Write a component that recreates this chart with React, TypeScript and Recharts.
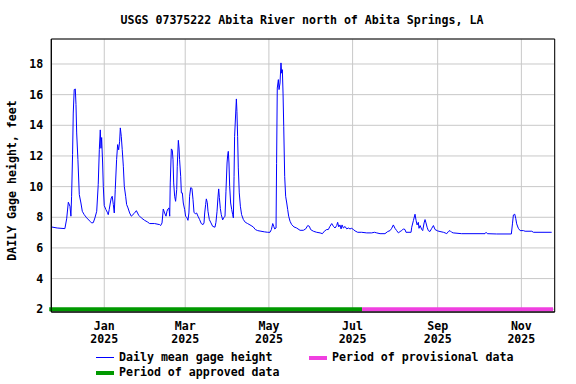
import { CartesianGrid, Legend, Line, LineChart, ReferenceArea, ReferenceLine, XAxis, YAxis } from "recharts";

// day 0 = 1 Jan 2025
const days = [
  -38.6, -34.3, -28.7, -27.4, -26.2, -25.0, -24.3, -23.8, -23.1, -22.6, -21.9, -21.1, -20.6, -20.1, -19.2, -18.2,
  -17.0, -16.0, -14.6, -12.8, -10.4, -9.2, -8.0, -6.8, -5.5, -4.4, -3.6, -2.9, -2.4, -1.9, -1.2, -0.7,
  0.0, 1.2, 2.2, 2.9, 3.6, 4.4, 5.1, 5.8, 6.6, 7.3, 8.0, 9.0, 9.75, 10.5, 11.2, 11.7,
  12.4, 13.1, 13.9, 14.6, 15.6, 16.3, 17.3, 18.5, 19.7, 21.7, 23.4, 25.1, 27.0, 29.4,
  31.4, 33.1, 36.7, 40.4, 41.1, 42.1, 43.0, 44.0, 45.0, 45.7, 46.4, 47.2, 47.7, 48.1,
  48.9, 49.6, 50.1, 50.6, 51.3, 52.0, 52.8, 53.2, 54.0, 54.5, 54.9, 55.7, 56.2, 56.9,
  57.6, 58.6, 59.3, 60.3, 61.0, 61.7, 62.2, 63.0, 63.9, 64.7, 65.4, 66.4, 67.3, 68.3,
  69.5, 70.7, 72.0, 72.7, 73.2, 73.9, 74.4, 75.1, 75.6, 76.6, 77.8, 79.0, 80.7, 81.4,
  82.2, 82.9, 83.4, 83.9, 84.6, 85.3, 86.3, 87.0, 88.0, 88.7, 89.5, 89.9, 90.4, 90.9,
  91.4, 92.1, 92.9, 93.6, 94.1, 94.6, 95.0, 95.8, 96.3, 96.7, 97.2, 97.7, 98.4, 99.2,
  100.1, 101.4, 102.8, 104.5, 107.0, 108.6, 110.1, 111.8, 114.2, 116.7, 119.1, 120.8, 121.8, 122.8,
  123.5, 124.2, 125.2, 125.6, 126.1, 126.9, 127.4, 128.1, 128.8, 129.3, 129.8, 130.3, 130.8, 131.5,
  132.2, 133.0, 133.7, 134.4, 135.4, 136.6, 138.3, 140.2, 142.7, 145.1, 146.8, 148.3, 149.5, 150.4,
  152.4, 154.8, 157.3, 159.0, 160.4, 162.1, 163.3, 164.5, 165.8, 167.0, 168.2, 169.4, 170.1, 170.9,
  171.8, 172.6, 173.3, 174.3, 175.5, 176.7, 177.9, 179.1, 180.3, 181.6, 182.8, 184.7, 187.6, 191.3,
  194.9, 196.9, 198.6, 201.0, 204.6, 206.6, 208.3, 209.5, 210.7, 211.9, 213.1, 214.4, 215.6, 216.8,
  218.0, 219.2, 219.9, 223.6, 224.1, 225.3, 226.5, 227.3, 228.0, 228.9, 229.4, 230.2, 231.4, 232.1,
  233.1, 233.8, 234.5, 235.3, 236.2, 237.4, 238.7, 239.9, 241.1, 243.0, 244.7, 247.2, 248.4, 249.6,
  250.8, 252.0, 253.2, 254.4, 260.5, 277.5, 278.3, 279.2, 286.0, 296.7, 297.5, 298.2, 299.2, 299.9,
  300.6, 301.8, 303.1, 305.5, 306.7, 311.6, 312.8, 326.1
];

const gageHeight = [
  7.37, 7.3, 7.26, 7.9, 8.98, 8.72, 8.07, 9.37, 12.09, 14.8, 16.33, 16.37, 15.35, 13.5, 11.76, 9.48,
  8.93, 8.39, 8.17, 7.96, 7.74, 7.63, 7.65, 7.96, 8.39, 10.13, 12.41, 13.7, 12.5, 13.2, 11.54, 10.0,
  8.76, 8.5, 8.33, 8.17, 8.5, 8.93, 9.26, 9.37, 8.83, 8.28, 9.8, 11.76, 12.74, 12.4, 12.96, 13.83,
  13.28, 12.41, 11.33, 10.02, 9.37, 8.83, 8.61, 8.28, 8.07, 8.24, 8.43, 8.13, 7.96, 7.8,
  7.7, 7.59, 7.59, 7.52, 7.46, 7.63, 8.54, 8.28, 8.07, 8.39, 8.54, 8.61, 8.07, 10.24,
  12.46, 12.37, 11.76, 10.24, 9.37, 9.04, 9.8, 11.33, 13.02, 12.52, 11.76, 10.67, 9.59, 9.59,
  8.93, 8.5, 8.07, 7.96, 7.8, 8.28, 9.37, 9.93, 9.89, 9.15, 8.33, 8.22, 8.28, 8.07,
  7.85, 7.59, 7.52, 7.63, 8.28, 8.83, 9.2, 8.95, 8.39, 7.85, 7.63, 7.41, 7.35, 7.67,
  8.39, 9.33, 9.85, 9.28, 8.57, 8.17, 7.83, 7.96, 8.07, 9.7, 11.54, 12.0, 12.3, 11.54,
  10.02, 8.93, 8.5, 8.17, 7.96, 10.67, 13.28, 14.8, 15.72, 14.91, 13.28, 11.22, 9.59, 8.72,
  8.17, 7.85, 7.67, 7.59, 7.46, 7.37, 7.2, 7.13, 7.09, 7.05, 7.02, 7.02, 7.2, 7.59,
  7.41, 7.24, 7.3, 11.5, 16.43, 16.98, 16.33, 16.76, 18.07, 17.4, 17.63, 16.1, 13.93, 10.67,
  9.37, 8.93, 8.5, 8.07, 7.74, 7.52, 7.37, 7.3, 7.15, 7.15, 7.24, 7.46, 7.41, 7.2,
  7.09, 7.02, 6.98, 6.93, 7.09, 7.2, 7.2, 7.41, 7.59, 7.41, 7.3, 7.46, 7.67, 7.37,
  7.5, 7.24, 7.5, 7.3, 7.4, 7.24, 7.3, 7.24, 7.28, 7.2, 7.11, 7.02, 7.02, 6.98,
  6.98, 7.02, 6.98, 6.93, 6.93, 7.07, 7.13, 7.28, 7.5, 7.28, 7.13, 6.98, 7.07, 7.13,
  7.24, 7.2, 7.02, 7.02, 7.35, 7.78, 8.2, 7.78, 7.5, 7.67, 7.28, 7.46, 7.2, 7.13,
  7.63, 7.85, 7.63, 7.35, 7.13, 7.07, 7.28, 7.46, 7.2, 7.11, 7.07, 7.02, 6.98, 6.93,
  7.07, 7.13, 7.02, 6.98, 6.93, 6.93, 7.02, 6.93, 6.91, 6.91, 7.57, 8.15, 8.2, 7.93,
  7.57, 7.28, 7.13, 7.13, 7.09, 7.09, 7.02, 7.02
];

const tickDays = [0, 59, 120, 181, 243, 304];
const tickMonths = ["Jan", "Mar", "May", "Jul", "Sep", "Nov"];
const tickYear = "2025";
const yTicks = [2, 4, 6, 8, 10, 12, 14, 16, 18];

const approvedPeriod = [-40.1, 187.9];
const provisionalPeriod = [187.9, 327.1];

const xDomain = [-38.6, 328.3];
const yDomain = [1.82, 19.63];

const FONT = "'DejaVu Sans Mono', 'Liberation Mono', monospace";

const data = days.map((d, i) => ({ day: d, height: gageHeight[i] }));

function XTick(props: any) {
  const { x, y, payload } = props;
  const i = tickDays.indexOf(payload.value);
  return (
    <text x={x} y={y} textAnchor="middle" fontFamily={FONT} fontWeight="bold" fontSize={11.6} fill="#000">
      <tspan x={x} dy={18}>{tickMonths[i]}</tspan>
      <tspan x={x} dy={13}>{tickYear}</tspan>
    </text>
  );
}

function YTick(props: any) {
  const { x, y, payload } = props;
  return (
    <text x={x} y={y} dy={4} textAnchor="end" fontFamily={FONT} fontWeight="bold" fontSize={11.6} fill="#000">
      {payload.value}
    </text>
  );
}

function LegendBox() {
  const text = { fontFamily: FONT, fontWeight: "bold" as const, fontSize: 11.6, color: "#000", position: "absolute" as const, whiteSpace: "pre" as const, lineHeight: "14px" };
  return (
    <div style={{ position: "relative", width: 460, height: 32 }}>
      <div style={{ position: "absolute", left: 0, top: 7, width: 18, height: 1, background: "#0000ff" }} />
      <div style={{ ...text, left: 23, top: 0 }}>Daily mean gage height</div>
      <div style={{ position: "absolute", left: 213, top: 6, width: 18, height: 4, background: "#f040e0" }} />
      <div style={{ ...text, left: 236, top: 0 }}>Period of provisional data</div>
      <div style={{ position: "absolute", left: 0, top: 21, width: 18, height: 4, background: "#009900" }} />
      <div style={{ ...text, left: 23, top: 15 }}>Period of approved data</div>
    </div>
  );
}

export default function App() {
  return (
    <div style={{ position: "absolute", left: 0, top: 0, width: 576, height: 384, background: "#fff" }}>
      <div style={{ position: "absolute", left: 0, top: 13, width: 604, textAlign: "center", fontFamily: FONT, fontWeight: "bold", fontSize: 11.6, lineHeight: "14px" }}>
        USGS 07375222 Abita River north of Abita Springs, LA
      </div>
      <LineChart width={576} height={384} data={data} margin={{ top: 39, right: 21.3, bottom: 32, left: 0 }}>
        <CartesianGrid stroke="#c8c8c8" strokeWidth={1} />
        <XAxis
          dataKey="day"
          type="number"
          domain={xDomain}
          ticks={tickDays}
          allowDataOverflow
          height={40}
          tickSize={0}
          tickMargin={0}
          tick={<XTick />}
          axisLine={{ stroke: "#000" }}
        />
        <YAxis
          type="number"
          domain={yDomain}
          ticks={yTicks}
          allowDataOverflow
          width={51.3}
          tickSize={0}
          tickMargin={8}
          tick={<YTick />}
          axisLine={{ stroke: "#000" }}
          label={() => (
            <text x={12} y={180.5} dy={4} textAnchor="middle" transform="rotate(-90 12 180.5)" fontFamily={FONT} fontWeight="bold" fontSize={11.6} fill="#000">
              DAILY Gage height, feet
            </text>
          )}
        />
        <ReferenceArea x1={xDomain[0]} x2={xDomain[1]} y1={yDomain[0]} y2={yDomain[1]} fill="none" stroke="#000" strokeWidth={1} ifOverflow="visible" />
        <ReferenceLine segment={[{ x: approvedPeriod[0], y: 2 }, { x: approvedPeriod[1], y: 2 }]} stroke="#009900" strokeWidth={4} ifOverflow="visible" />
        <ReferenceLine segment={[{ x: provisionalPeriod[0], y: 2 }, { x: provisionalPeriod[1], y: 2 }]} stroke="#f040e0" strokeWidth={4} ifOverflow="visible" />
        <Line type="linear" dataKey="height" stroke="#0000ff" strokeWidth={1} dot={false} activeDot={false} isAnimationActive={false} />
        <Legend
          layout="horizontal"
          verticalAlign="middle"
          content={<LegendBox />}
          wrapperStyle={{ position: "absolute", left: 96, top: 350, width: 460, height: 32 }}
        />
      </LineChart>
    </div>
  );
}
